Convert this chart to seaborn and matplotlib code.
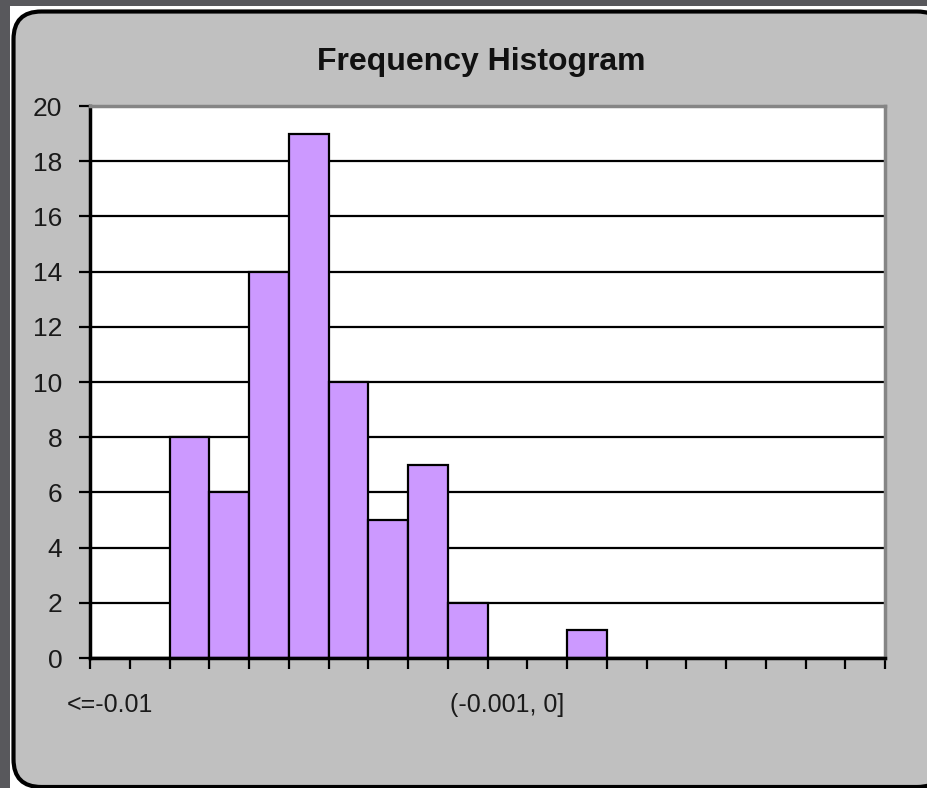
import matplotlib
matplotlib.use("Agg")
import matplotlib.pyplot as plt
import seaborn as sns
import pandas as pd
from matplotlib.patches import FancyBboxPatch, Rectangle
from matplotlib.ticker import FixedLocator

bins = ["<=-0.01", "(-0.01, -0.009]", "(-0.009, -0.008]", "(-0.008, -0.007]",
        "(-0.007, -0.006]", "(-0.006, -0.005]", "(-0.005, -0.004]", "(-0.004, -0.003]",
        "(-0.003, -0.002]", "(-0.002, -0.001]", "(-0.001, 0]", "(0, 0.001]",
        "(0.001, 0.002]", "(0.002, 0.003]", "(0.003, 0.004]", "(0.004, 0.005]",
        "(0.005, 0.006]", "(0.006, 0.007]", "(0.007, 0.008]", "(0.008, 0.009]"]
freq = [0, 0, 8, 6, 14, 19, 10, 5, 7, 2, 0, 0, 1, 0, 0, 0, 0, 0, 0, 0]
shown_labels = ["<=-0.01", "(-0.001, 0]"]
y_ticks = [0, 2, 4, 6, 8, 10, 12, 14, 16, 18, 20]

df = pd.DataFrame({"bin": bins, "freq": freq})

sns.set_theme(style="white")
plt.rcParams['font.family'] = ['Liberation Sans', 'DejaVu Sans']

W, H = 928, 788
fig = plt.figure(figsize=(W / 100, H / 100), dpi=100)
fig.patch.set_facecolor("#58585c")


def fx(px):
    return px / W


def fy(py):
    return 1 - py / H


# white sheet behind the chart object
fig.add_artist(Rectangle((fx(10), fy(H + 5)), fx(W + 10) - fx(10), fy(6) - fy(H + 5),
                         transform=fig.transFigure, facecolor="white",
                         edgecolor="none", zorder=-10))

# rounded gray chart panel
panel = FancyBboxPatch((fx(13.5), fy(787)), fx(945) - fx(13.5), fy(11.5) - fy(787),
                       boxstyle="round,pad=0,rounding_size=0.03",
                       transform=fig.transFigure, facecolor="#c0c0c0",
                       edgecolor="black", linewidth=3, zorder=-5,
                       mutation_aspect=W / H)
fig.add_artist(panel)

left, right, top, bottom = 90, 885, 106, 658
ax = fig.add_axes([fx(left), fy(bottom), fx(right) - fx(left), fy(top) - fy(bottom)])
ax.set_zorder(1)
ax.set_facecolor("white")
ax.set_axisbelow(True)

sns.barplot(data=df, x="bin", y="freq", order=bins, color="#cc99ff",
            saturation=1, width=1.0, edgecolor="black", linewidth=1.6, ax=ax)

ax.set_xlim(-0.5, len(bins) - 0.5)
ax.set_ylim(0, 20)
ax.set_yticks(y_ticks)
ax.set_yticklabels([str(v) for v in y_ticks], fontsize=19, color="#1a1a1a")
ax.yaxis.grid(True, color="black", linewidth=1.6)
ax.xaxis.grid(False)

ax.set_xticks([bins.index(s) for s in shown_labels])
ax.set_xticklabels(shown_labels, fontsize=18, color="#1a1a1a")
ax.xaxis.set_minor_locator(FixedLocator([i - 0.5 for i in range(len(bins) + 1)]))
ax.tick_params(axis="x", which="major", length=0, pad=25)
ax.tick_params(axis="x", which="minor", length=8, width=1.6, direction="out",
               color="black", bottom=True)
ax.tick_params(axis="y", which="major", length=8, width=1.6, direction="out",
               color="black", left=True, pad=12)

ax.set_xlabel("")
ax.set_ylabel("")

for s in ["left", "bottom"]:
    ax.spines[s].set_color("black")
    ax.spines[s].set_linewidth(2.5)
for s in ["top", "right"]:
    ax.spines[s].set_color("#858585")
    ax.spines[s].set_linewidth(2.5)
    ax.spines[s].set_visible(True)
ax.spines["bottom"].set_zorder(5)

fig.text(fx(481), fy(62), "Frequency Histogram", ha="center", va="center",
         fontsize=23, fontweight="bold", color="#111111")

fig.savefig("out.png", dpi=100, facecolor=fig.get_facecolor())
